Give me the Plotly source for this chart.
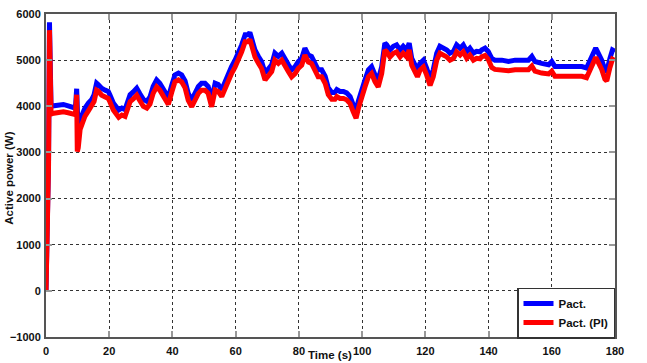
import plotly.graph_objects as go

# time (s)
t = [0, 0.4, 0.8, 1.1, 1.3, 1.6, 2.5, 4, 5.5, 7, 8.5, 9.3, 9.7, 9.9, 10.2, 10.8,
     12.3, 13.4, 14.4, 15.2, 16, 16.5, 17.6, 18.7, 19.7, 20.2, 21.3, 23, 24, 25,
     25.7, 26.6, 27.6, 28.7, 29.7, 30.8, 31.9, 32.9, 33.9, 35, 36, 37.1, 38.2,
     38.7, 39.8, 40.8, 41.9, 42.9, 44, 45, 46.1, 47.1, 48.2, 49.2, 50.3, 51.3,
     52.4, 53.5, 54.5, 55.6, 56.6, 57.7, 58.7, 59.8, 60.8, 61.9, 63, 64, 64.5,
     65.1, 66.1, 67.2, 68.2, 69.3, 70.3, 71.4, 72.4, 73.5, 74.6, 75.6, 76.7,
     77.7, 78.8, 79.8, 80.9, 81.9, 83, 84, 85.1, 86.1, 87.2, 88.3, 89.3, 90.4,
     91.4, 92, 93, 94.1, 95.1, 96.2, 97.2, 98.1, 98.8, 99.9, 100.9, 102, 103,
     104.1, 105.1, 106.2, 107.2, 107.8, 108.8, 109.9, 110.9, 112, 113, 114.1,
     114.9, 115.7, 116.7, 117.5, 118.3, 119.4, 120.4, 121.5, 122.5, 123.6,
     124.6, 125.7, 126.8, 127.8, 128.9, 129.9, 131, 132, 133.1, 134.1, 135.2,
     136.2, 137.3, 137.8, 138.9, 139.9, 141, 142, 144.2, 146.3, 148.4, 150.5,
     152.6, 153.7, 154.7, 156.8, 159, 160, 161, 163.1, 165.2, 167.3, 169.5,
     171, 172.1, 173.1, 173.9, 174.7, 175.8, 176.8, 177.4, 178.4, 179.2, 180]

# Pact. (W)
p_act = [0, 1200, 2800, 5820, 4450, 4000, 4010, 4030, 4040, 4010, 3990, 3960, 4380,
         3600, 3420, 3710, 3960, 4070, 4140, 4250, 4500, 4470, 4390, 4350, 4320,
         4250, 4070, 3920, 3960, 3930, 4080, 4250, 4310, 4390, 4270, 4150, 4110,
         4200, 4430, 4570, 4500, 4390, 4250, 4190, 4460, 4680, 4720, 4680, 4550,
         4280, 4140, 4290, 4430, 4500, 4500, 4430, 4140, 4500, 4470, 4360, 4540,
         4680, 4860, 5000, 5150, 5330, 5550, 5550, 5600, 5440, 5220, 5080, 4970,
         4720, 4830, 4900, 5150, 5080, 5150, 5000, 4900, 4790, 4860, 4970, 5040,
         5260, 5110, 5080, 4900, 4790, 4790, 4650, 4400, 4300, 4300, 4360, 4320,
         4320, 4290, 4210, 4030, 3920, 4110, 4390, 4570, 4790, 4860, 4680, 4570,
         4860, 5370, 5330, 5220, 5300, 5330, 5220, 5300, 5220, 5370, 5040, 4860,
         4790, 4930, 5000, 4830, 4600, 4790, 5150, 5300, 5260, 5220, 5150, 5190,
         5330, 5260, 5330, 5190, 5260, 5150, 5190, 5180, 5220, 5260, 5190, 5040,
         5000, 5000, 4970, 5000, 5000, 5000, 5080, 4970, 4930, 4900, 4970, 4860,
         4860, 4860, 4860, 4860, 4830, 5000, 5190, 5260, 5150, 5000, 4790, 4760,
         5040, 5220, 5190]

# Pact. (PI) (W)
p_act_pi = [0, 1100, 2700, 5650, 4300, 3830, 3850, 3870, 3880, 3860, 3840, 3820,
            4250, 3020, 3100, 3500, 3780, 3900, 3990, 4100, 4350, 4330, 4240,
            4200, 4170, 4100, 3920, 3760, 3810, 3780, 3930, 4100, 4160, 4240,
            4120, 4000, 3960, 4050, 4280, 4420, 4350, 4240, 4100, 4040, 4310,
            4530, 4570, 4530, 4400, 4130, 3990, 4140, 4280, 4350, 4350, 4280,
            3990, 4350, 4320, 4210, 4390, 4530, 4710, 4850, 5000, 5180, 5400,
            5400, 5450, 5290, 5070, 4930, 4820, 4570, 4680, 4750, 5000, 4930,
            5000, 4850, 4750, 4640, 4710, 4820, 4890, 5110, 4960, 4930, 4750,
            4640, 4640, 4500, 4250, 4150, 4150, 4210, 4170, 4170, 4140, 4060,
            3880, 3740, 3950, 4240, 4420, 4640, 4710, 4530, 4420, 4710, 5220,
            5180, 5070, 5150, 5180, 5070, 5150, 5070, 5220, 4890, 4710, 4640,
            4780, 4850, 4680, 4450, 4640, 5000, 5150, 5110, 5070, 5000, 5040,
            5180, 5110, 5180, 5040, 5110, 5000, 5040, 5030, 5070, 5100, 5020,
            4840, 4800, 4790, 4770, 4790, 4800, 4790, 4870, 4760, 4720, 4700,
            4760, 4650, 4650, 4650, 4650, 4650, 4620, 4800, 4990, 5060, 4950,
            4800, 4590, 4550, 4840, 5020, 4990]

x_ticks = [0, 20, 40, 60, 80, 100, 120, 140, 160, 180]
y_ticks = [-1000, 0, 1000, 2000, 3000, 4000, 5000, 6000]

FONT = "Liberation Sans Narrow, Arial Narrow, Liberation Sans, Arial, sans-serif"
TXT = "#111111"

fig = go.Figure()
fig.add_trace(go.Scatter(x=t, y=p_act, mode="lines", name="Pact.",
                         line=dict(color="#0000ff", width=5)))
fig.add_trace(go.Scatter(x=t, y=p_act_pi, mode="lines", name="Pact. (PI)",
                         line=dict(color="#ff0000", width=5)))

axis_common = dict(
    showgrid=True, gridcolor="#333333", griddash="dot", gridwidth=1,
    showline=True, linecolor="#555555", linewidth=2, mirror="ticks",
    ticks="inside", ticklen=6, tickcolor="#999999", tickwidth=2,
    tickfont=dict(family=FONT, size=11, color=TXT, weight="bold"),
    zeroline=False, automargin=False,
)

fig.update_xaxes(range=[0, 180], tickvals=x_ticks, ticklabelstandoff=3,
                 **axis_common)
fig.update_yaxes(range=[-1000, 6000], tickvals=y_ticks, ticklabelstandoff=1,
                 **axis_common)

fig.update_layout(
    width=647, height=363,
    margin=dict(l=46, r=32, t=14, b=26, autoexpand=False),
    paper_bgcolor="white", plot_bgcolor="white",
    showlegend=True,
    legend=dict(x=1, y=-0.005, xanchor="right", yanchor="bottom",
                bgcolor="white", bordercolor="#333333", borderwidth=1.5,
                font=dict(family=FONT, size=11.5, color=TXT, weight="bold"),
                itemwidth=30, tracegroupgap=0),
    annotations=[
        dict(text="Active power (W)", xref="paper", yref="paper", x=0, y=0.49,
             xshift=-37, textangle=-90, showarrow=False,
             xanchor="center", yanchor="middle",
             font=dict(family=FONT, size=11.5, color=TXT, weight="bold")),
        dict(text="Time (s)", xref="x", yref="paper", x=89.8, y=0,
             yshift=-18, showarrow=False, xanchor="center", yanchor="middle",
             font=dict(family=FONT, size=11.5, color=TXT, weight="bold")),
    ],
)

fig.write_html("out.html")
